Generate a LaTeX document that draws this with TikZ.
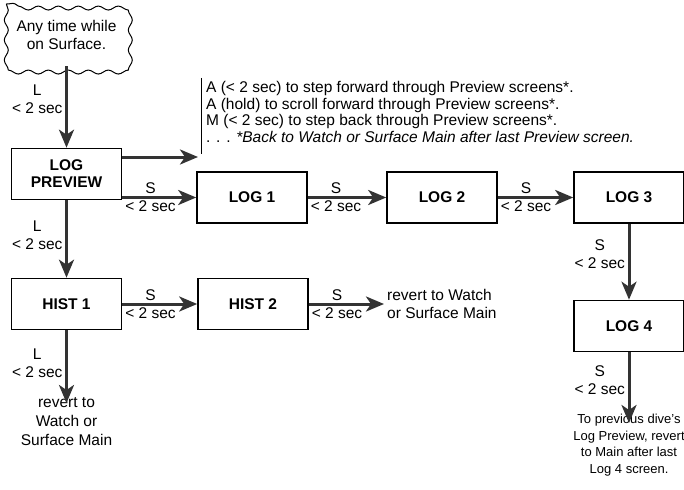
\documentclass[tikz,border=0pt]{standalone}
\usepackage{fontspec}
\setmainfont{Liberation Sans}
\usetikzlibrary{arrows.meta,positioning,decorations.pathmorphing}

\begin{document}
\begin{tikzpicture}[x=1pt, y=-1pt,
	every node/.style={font=\fontsize{15.5}{18}\selectfont},
	screen/.style={draw, line width=1.6pt, minimum width=110pt, minimum height=51pt,
		align=center, inner sep=0pt, font=\fontsize{15.5}{17}\selectfont\bfseries},
	flow/.style={-{Stealth[length=18pt,width=15pt,inset=5pt]}, line width=3pt, draw=black!80},
	lbl/.style={align=center, inner sep=1.5pt},
	note/.style={align=left, inner sep=0pt, font=\fontsize{15.5}{16.7}\selectfont},
	wavy/.style={line width=1pt, decorate, decoration={snake, segment length=20pt, amplitude=2pt}}]
	\useasboundingbox (0,0) rectangle (684,489);

	% Start of the sequence
	\node[minimum width=120pt, minimum height=62pt, align=center, inner sep=0pt] (surface) at (66.5,35)
		{Any time while\\on Surface.};
	\draw[wavy] (surface.north west) rectangle (surface.south east);

	% Screens
	\node[screen] (preview) at (66.5,174) {LOG\\PREVIEW};
	\node[screen] (log1) at (252,197.5) {LOG 1};
	\node[screen] (log2) at (442,197.5) {LOG 2};
	\node[screen] (log3) at (629,197.5) {LOG 3};
	\node[screen] (log4) at (629,326) {LOG 4};
	\node[screen] (hist1) at (66.5,304) {HIST 1};
	\node[screen] (hist2) at (253,304) {HIST 2};

	% Notes on the preview screens
	\node[note, anchor=north west] (steps) at (206,81)
		{A (< 2 sec) to step forward through Preview screens*.\\
		A (hold) to scroll forward through Preview screens*.\\
		M (< 2 sec) to step back through Preview screens*.\\
		. . . \textit{*Back to Watch or Surface Main after last Preview screen.}};
	\coordinate (bartop) at ([xshift=-5pt,yshift=3pt]steps.north west);
	\coordinate (bar) at (bartop |- 0,154);
	\draw[line width=1pt] (bartop) -- (bar);
	\coordinate (stepsin) at ([xshift=-3pt,yshift=-3pt]bar);

	% Ends of the branches
	\coordinate (histend) at (66.5,403);
	\node[align=center, inner sep=0pt, anchor=north, font=\fontsize{15.5}{19}\selectfont] (histout)
		at ([yshift=6pt]histend) {revert to\\Watch or\\Surface Main};
	\coordinate (hist2end) at (384,304);
	\node[align=left, inner sep=0pt, anchor=west] (hist2out) at ([xshift=3pt]hist2end)
		{revert to Watch\\or Surface Main};
	\coordinate (logend) at (629,423);
	\node[align=center, inner sep=0pt, anchor=north, font=\fontsize{13}{16.5}\selectfont] (logout)
		at ([yshift=9pt]logend) {To previous dive's\\Log Preview, revert\\to Main after last\\Log 4 screen.};

	% Vertical transitions
	\draw[flow] (surface.south) -- node[pos=0.4, left, lbl, xshift=-1pt] {L\\< 2 sec} (preview.north);
	\draw[flow] (preview.south) -- node[pos=0.45, left, lbl, xshift=-1pt] {L\\< 2 sec} (hist1.north);
	\draw[flow] (hist1.south) -- node[pos=0.45, left, lbl, xshift=-1pt] {L\\< 2 sec} (histend);
	\draw[flow] (log3.south) -- node[pos=0.4, left, lbl, xshift=-1pt] {S\\< 2 sec} (log4.north);
	\draw[flow] (log4.south) -- node[pos=0.4, left, lbl, xshift=-1pt] {S\\< 2 sec} (logend);

	% Horizontal transitions
	\draw[flow] (preview.east |- stepsin) -- (stepsin);
	\draw[flow] (preview.east |- log1) -- node[pos=0, right, lbl] {S\\< 2 sec} (log1.west);
	\draw[flow] (log1.east) -- node[pos=0, right, lbl] {S\\< 2 sec} (log2.west);
	\draw[flow] (log2.east) -- node[pos=0, right, lbl] {S\\< 2 sec} (log3.west);
	\draw[flow] (hist1.east) -- node[pos=0, right, lbl] {S\\< 2 sec} (hist2.west);
	\draw[flow] (hist2.east) -- node[pos=0, right, lbl] {S\\< 2 sec} (hist2end);
\end{tikzpicture}
\end{document}
